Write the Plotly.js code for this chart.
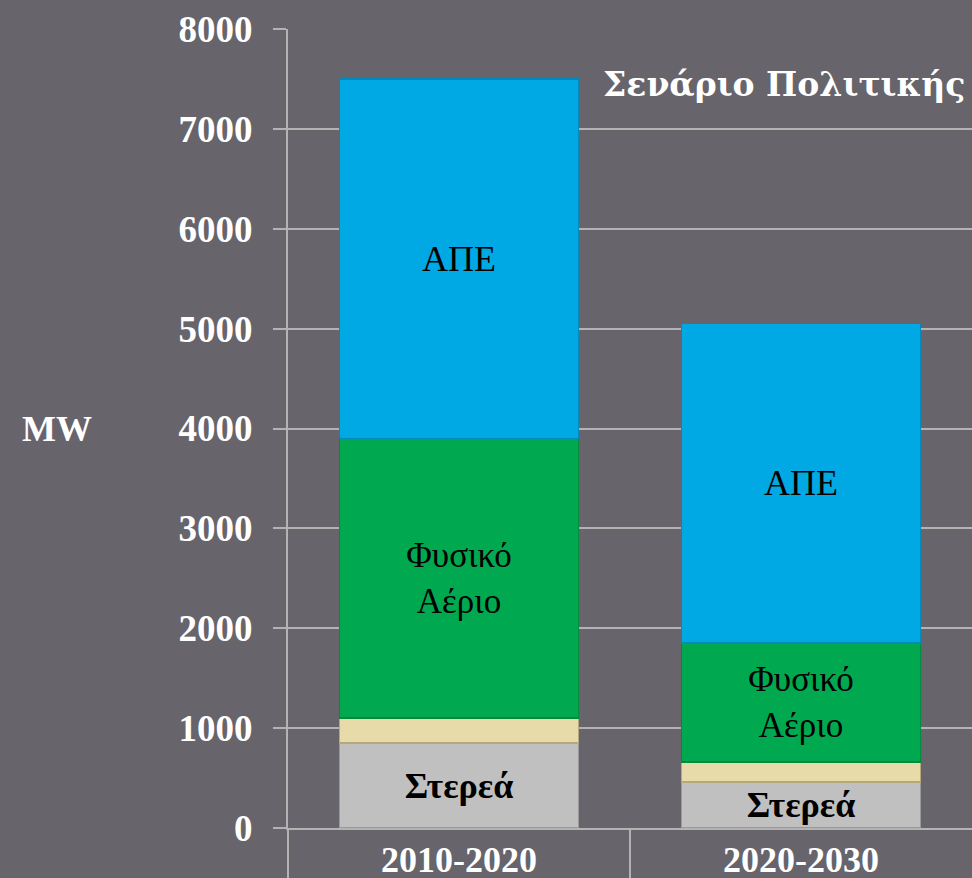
<!DOCTYPE html>
<html>
<head>
<meta charset="utf-8">
<script src="https://cdn.plot.ly/plotly-3.0.1.min.js"></script>
<style>html,body{margin:0;padding:0;background:#67646b;}</style>
</head>
<body>
<div id="chart" style="width:972px;height:878px;"></div>
<script>
// Data
const categories = ['2010-2020', '2020-2030'];
const solids = [850, 460];      // Στερεά
const other = [250, 200];       // small tan segment
const gas = [2800, 1190];       // Φυσικό Αέριο
const res = [3600, 3200];       // ΑΠΕ
const solidsLabel = 'Στερεά';
const gasLabel = 'Φυσικό<br>Αέριο';
const resLabel = 'ΑΠΕ';
const yTicks = [0, 1000, 2000, 3000, 4000, 5000, 6000, 7000, 8000];
const chartTitle = 'Σενάριο Πολιτικής';
const unitLabel = 'MW';

const serif = 'Liberation Serif, Times New Roman, serif';
const W = 0.7;

function seg(name, vals, color, edge, label, bold, size) {
  return {
    type: 'bar', name: name, x: categories, y: vals, width: W,
    marker: {color: color, line: {color: edge, width: 1.5}},
    text: label ? vals.map(() => label) : undefined,
    texttemplate: label ? (bold ? '<b>%{text}</b>' : '%{text}') : undefined,
    textposition: label ? 'inside' : 'none',
    insidetextanchor: 'middle',
    constraintext: 'none',
    textangle: 0,
    textfont: {family: serif, size: size, color: '#000000'},
    hoverinfo: 'none'
  };
}

const data = [
  seg('Στερεά', solids, '#c0c0c0', '#9a9a9a', solidsLabel, true, 36),
  seg('Άλλο', other, '#e6dba9', '#b5a87a', null, false, 30),
  seg('Φυσικό Αέριο', gas, '#00a94f', '#008a3c', gasLabel, false, 35),
  seg('ΑΠΕ', res, '#00a8e4', '#0089bb', resLabel, false, 36),
  // invisible helper trace so the divider axis is drawn
  {type: 'scatter', x: [-0.5, 0.5], y: [0, 0], xaxis: 'x2', yaxis: 'y', mode: 'none', hoverinfo: 'none', showlegend: false}
];

const layout = {
  width: 972, height: 878,
  margin: {l: 288, r: 0, t: 29, b: 50},
  paper_bgcolor: '#67646b',
  plot_bgcolor: '#67646b',
  barmode: 'stack',
  showlegend: false,
  xaxis: {
    type: 'category',
    range: [-0.5, 1.5],
    showgrid: false,
    showline: true, linecolor: '#b3b3b3', linewidth: 2,
    ticks: '',
    ticklabelstandoff: -1,
    tickfont: {family: serif, size: 36, color: '#ffffff', weight: 'bold'},
    zeroline: false
  },
  xaxis2: {
    overlaying: 'x', side: 'bottom', anchor: 'y',
    range: [-0.5, 1.5], tickvals: [-0.5, 0.5],
    showticklabels: false, showgrid: false, zeroline: false, showline: false,
    ticks: 'outside', ticklen: 50, tickwidth: 2, tickcolor: '#b3b3b3'
  },
  yaxis: {
    range: [0, 8000],
    tickvals: yTicks,
    ticktext: yTicks.map(String),
    showgrid: true, gridcolor: '#b3b3b3', gridwidth: 2,
    showline: true, linecolor: '#b3b3b3', linewidth: 2,
    ticks: 'outside', ticklen: 13, tickwidth: 2, tickcolor: '#b3b3b3',
    ticklabelstandoff: 13,
    tickfont: {family: serif, size: 37, color: '#ffffff', weight: 'bold'},
    zeroline: false
  },
  annotations: [
    {text: '<b>' + chartTitle + '</b>', xref: 'paper', yref: 'paper', x: 0.993, y: 0.93,
     xanchor: 'right', yanchor: 'middle', showarrow: false,
     font: {family: 'DejaVu Serif, serif', size: 33, color: '#ffffff'}},
    {text: '<b>' + unitLabel + '</b>', xref: 'paper', yref: 'paper', x: -0.392, y: 0.5,
     xanchor: 'left', yanchor: 'middle', showarrow: false,
     font: {family: serif, size: 36, color: '#ffffff'}}
  ]
};

Plotly.newPlot('chart', data, layout, {displayModeBar: false, staticPlot: true});
</script>
</body>
</html>
